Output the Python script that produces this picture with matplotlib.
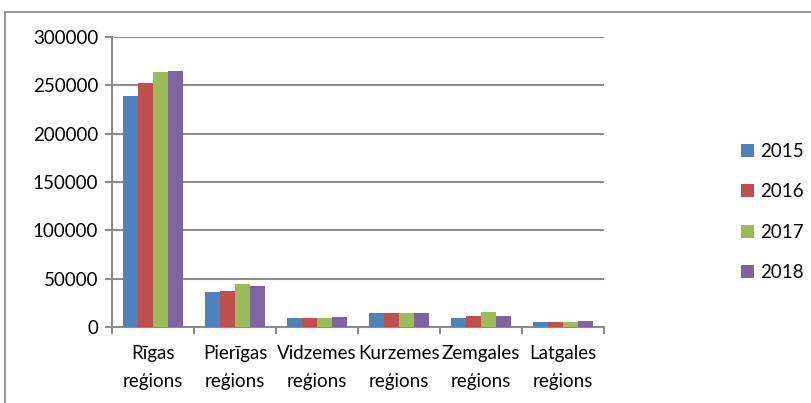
import matplotlib.pyplot as plt
import numpy as np
from matplotlib.patches import Rectangle

plt.rcParams['font.family'] = ['Lato', 'DejaVu Sans']

regions = ['Rīgas\nreģions', 'Pierīgas\nreģions', 'Vidzemes\nreģions',
           'Kurzemes\nreģions', 'Zemgales\nreģions', 'Latgales\nreģions']
years = ['2015', '2016', '2017', '2018']
v2015 = [239300, 36200, 9300, 14100, 9300, 4800]
v2016 = [252700, 37200, 9300, 14100, 11400, 4800]
v2017 = [263800, 44500, 9300, 14000, 15200, 4700]
v2018 = [265100, 42100, 10300, 14100, 11400, 6200]
colors = ['#4f81bd', '#c0504d', '#9bbb59', '#8064a2']

W, H = 811, 403
fig = plt.figure(figsize=(W / 100, H / 100), dpi=100)
ax = fig.add_axes([112 / W, 1 - 327 / H, (604 - 112) / W, (327 - 37) / H])

x = np.arange(len(regions))
bw = 0.18
for i, (vals, c, lab) in enumerate(zip([v2015, v2016, v2017, v2018], colors, years)):
    ax.bar(x + (i - 1.5) * bw, vals, bw, color=c, label=lab, zorder=3)

ax.set_xlim(-0.5, len(regions) - 0.5)
ax.set_ylim(0, 300000)
ax.set_yticks(range(0, 300001, 50000))
ax.set_yticklabels([str(v) for v in range(0, 300001, 50000)], fontsize=13.5)
ax.yaxis.grid(True, color='#8c8c8c', linewidth=1.5, zorder=0)
ax.set_xticks(np.arange(-0.5, len(regions), 1.0))
ax.set_xticklabels([])
ax.set_xticks(x, minor=True)
ax.set_xticklabels(regions, minor=True, fontsize=13.5, linespacing=1.75)
ax.tick_params(axis='x', which='minor', length=0, pad=13)
ax.tick_params(axis='x', which='major', length=5, color='#8c8c8c', width=1.5)
ax.tick_params(axis='y', length=5, color='#8c8c8c', width=1.5, pad=5)
for s in ['top', 'right']:
    ax.spines[s].set_visible(False)
for s in ['left', 'bottom']:
    ax.spines[s].set_color('#8c8c8c')
    ax.spines[s].set_linewidth(1.5)

ax.legend(loc='center left', frameon=False, fontsize=13.5, handlelength=0.7,
          handleheight=0.7, handletextpad=0.3, labelspacing=1.25)
leg = ax.get_legend()
leg.set_bbox_to_anchor((724 / W, 1 - 212 / H), transform=fig.transFigure)

fig.patches.append(Rectangle((5 / W, -0.1), 1.2, 1 - 12 / H + 0.1, transform=fig.transFigure,
                             fill=False, edgecolor='#8c8c8c', linewidth=1.3))

fig.savefig('out.png', dpi=100)
